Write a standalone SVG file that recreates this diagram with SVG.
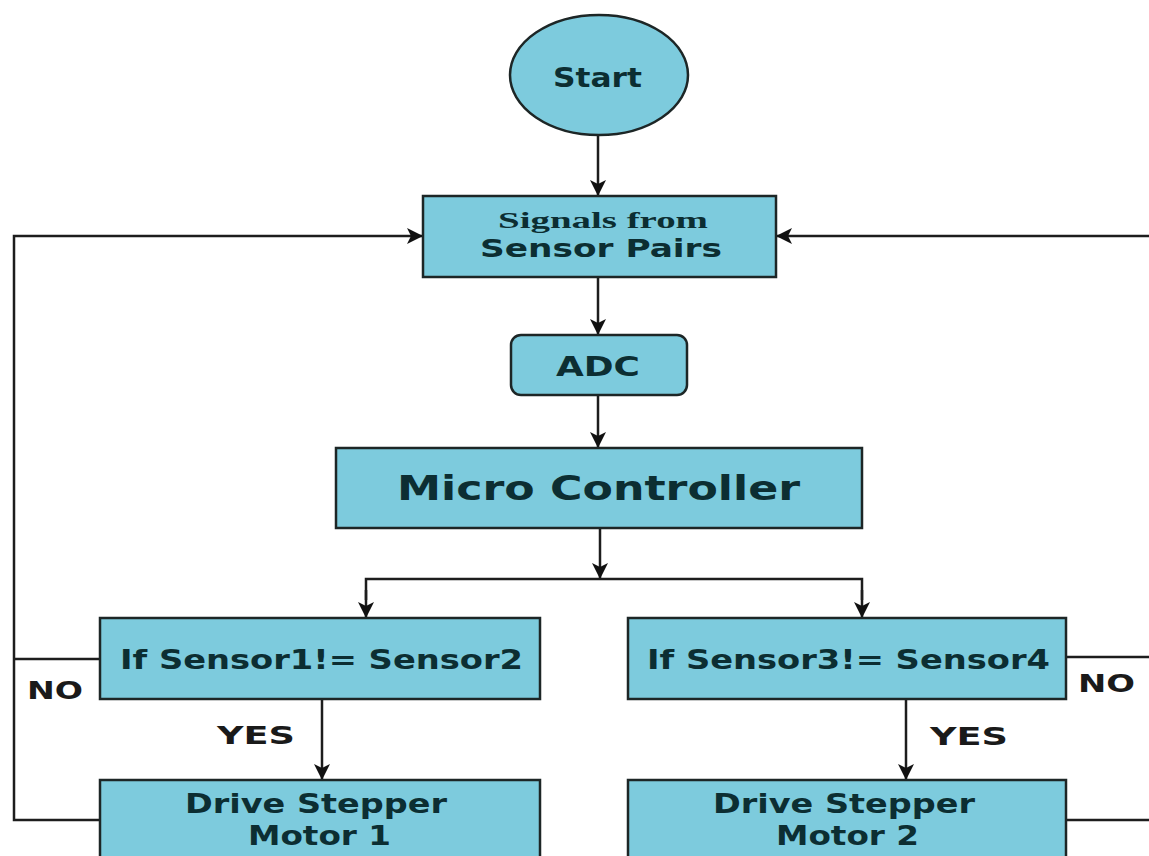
<svg xmlns="http://www.w3.org/2000/svg" width="1149" height="856" viewBox="0 0 1149 856">
<defs>
<style>
.box{fill:#7dcbdd;stroke:#1d2626;stroke-width:2.5}
.ln{fill:none;stroke:#1d1d1d;stroke-width:2.5}
.t{font-family:"DejaVu Sans",Verdana,sans-serif;font-weight:bold;fill:#0c2e32;font-size:26px}
.s{font-family:"Liberation Serif","Times New Roman",serif;font-weight:bold;fill:#0c2e32;font-size:24px}
.lab{font-family:"DejaVu Sans",Verdana,sans-serif;font-weight:bold;fill:#1a1a1a;font-size:24px}
</style>
<marker id="ah" viewBox="0 0 16 16" markerWidth="16" markerHeight="16" refX="15" refY="8" orient="auto" markerUnits="userSpaceOnUse">
<path d="M0,0 L16,8 L0,16 L4,8 z" fill="#111"/>
</marker>
</defs>
<rect width="1149" height="856" fill="#ffffff"/>
<g id="connectors">
<line class="ln" x1="598" y1="135" x2="598" y2="195" marker-end="url(#ah)"/>
<line class="ln" x1="598" y1="277" x2="598" y2="334" marker-end="url(#ah)"/>
<line class="ln" x1="598" y1="395" x2="598" y2="447" marker-end="url(#ah)"/>
<line class="ln" x1="600" y1="528" x2="600" y2="578" marker-end="url(#ah)"/>
<polyline class="ln" points="366,600 366,579 862,579 862,600"/>
<line class="ln" x1="366" y1="590" x2="366" y2="617" marker-end="url(#ah)"/>
<line class="ln" x1="862" y1="590" x2="862" y2="617" marker-end="url(#ah)"/>
<line class="ln" x1="322" y1="699" x2="322" y2="779" marker-end="url(#ah)"/>
<line class="ln" x1="906" y1="699" x2="906" y2="779" marker-end="url(#ah)"/>
<polyline class="ln" points="100,820 14,820 14,236 422,236" marker-end="url(#ah)"/>
<line class="ln" x1="100" y1="659" x2="14" y2="659"/>
<line class="ln" x1="1149" y1="236" x2="777" y2="236" marker-end="url(#ah)"/>
<line class="ln" x1="1066" y1="657" x2="1149" y2="657"/>
<line class="ln" x1="1066" y1="820" x2="1149" y2="820"/>
<text class="lab" x="27" y="699" textLength="56" lengthAdjust="spacingAndGlyphs">NO</text>
<text class="lab" x="1078" y="692" textLength="57" lengthAdjust="spacingAndGlyphs">NO</text>
<text class="lab" x="217" y="744" textLength="78" lengthAdjust="spacingAndGlyphs">YES</text>
<text class="lab" x="930" y="745" textLength="78" lengthAdjust="spacingAndGlyphs">YES</text>
</g>
<g id="start">
<ellipse class="box" cx="599" cy="75" rx="89" ry="60"/>
<text class="t" x="553" y="87" textLength="89" lengthAdjust="spacingAndGlyphs">Start</text>
</g>
<g id="signals">
<rect class="box" x="423" y="196" width="353" height="81"/>
<text class="s" x="498" y="228" textLength="210" lengthAdjust="spacingAndGlyphs">Signals from</text>
<text class="t" x="480" y="257" style="font-size:24px" textLength="242" lengthAdjust="spacingAndGlyphs">Sensor Pairs</text>
</g>
<g id="adc">
<rect class="box" x="511" y="335" width="176" height="60" rx="10" ry="10"/>
<text class="t" x="556" y="376" textLength="84" lengthAdjust="spacingAndGlyphs">ADC</text>
</g>
<g id="micro">
<rect class="box" x="336" y="448" width="526" height="80"/>
<text class="t" x="397" y="500" style="font-size:34px" textLength="403" lengthAdjust="spacingAndGlyphs">Micro Controller</text>
</g>
<g id="if1">
<rect class="box" x="100" y="618" width="440" height="81"/>
<text class="t" x="120" y="669" textLength="403" lengthAdjust="spacingAndGlyphs">If Sensor1!= Sensor2</text>
</g>
<g id="if2">
<rect class="box" x="628" y="618" width="438" height="81"/>
<text class="t" x="647" y="669" textLength="403" lengthAdjust="spacingAndGlyphs">If Sensor3!= Sensor4</text>
</g>
<g id="drive1">
<rect class="box" x="100" y="780" width="440" height="90"/>
<text class="t" x="185" y="813" textLength="262" lengthAdjust="spacingAndGlyphs">Drive Stepper</text>
<text class="t" x="248" y="845" textLength="143" lengthAdjust="spacingAndGlyphs">Motor 1</text>
</g>
<g id="drive2">
<rect class="box" x="628" y="780" width="438" height="90"/>
<text class="t" x="713" y="813" textLength="262" lengthAdjust="spacingAndGlyphs">Drive Stepper</text>
<text class="t" x="776" y="845" textLength="143" lengthAdjust="spacingAndGlyphs">Motor 2</text>
</g>
</svg>
